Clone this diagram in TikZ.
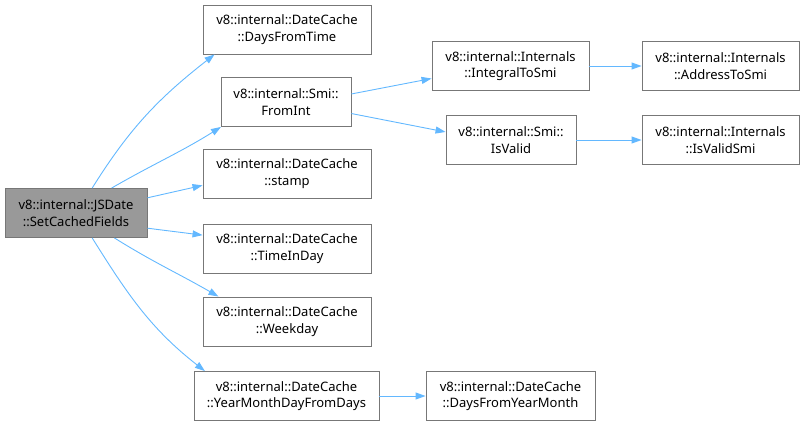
\documentclass[tikz,border=0pt]{standalone}
\usepackage{xcolor}
\usepackage{fontspec}
\setmainfont{Noto Sans}
\usetikzlibrary{arrows.meta}
\definecolor{edgec}{HTML}{63B8FF}
\definecolor{boxline}{HTML}{777777}
\definecolor{rootfill}{HTML}{999999}
\begin{document}
\begin{tikzpicture}[x=1pt, y=-1pt,
    fn/.style={draw=boxline, line width=0.9pt, fill=white, align=center,
      minimum height=49pt, inner sep=2pt, font=\fontsize{13}{16.5}\selectfont},
    root/.style={fn, fill=rootfill},
    call/.style={edgec, line width=0.9pt, -{Triangle[length=10pt, width=7pt]}}]
    \useasboundingbox (0,0) rectangle (804,426);
    % caller
    \node[root, minimum width=142pt] (jsdate) at (76,213) {v8::internal::JSDate\\::SetCachedFields};
    % direct callees
    \node[fn, minimum width=168pt] (dft) at (287,29.5) {v8::internal::DateCache\\::DaysFromTime};
    \node[fn, minimum width=130pt] (fromint) at (286,102) {v8::internal::Smi::\\FromInt};
    \node[fn, minimum width=168pt] (stamp) at (287,173.5) {v8::internal::DateCache\\::stamp};
    \node[fn, minimum width=168pt] (tid) at (287,248.5) {v8::internal::DateCache\\::TimeInDay};
    \node[fn, minimum width=168pt] (wday) at (287,321.5) {v8::internal::DateCache\\::Weekday};
    \node[fn, minimum width=185pt] (ymd) at (286.5,396) {v8::internal::DateCache\\::YearMonthDayFromDays};
    % second level
    \node[fn, minimum width=157pt] (its) at (510.5,66) {v8::internal::Internals\\::IntegralToSmi};
    \node[fn, minimum width=130pt] (isvalid) at (511,140) {v8::internal::Smi::\\IsValid};
    \node[fn, minimum width=169pt] (dfym) at (510.5,396) {v8::internal::DateCache\\::DaysFromYearMonth};
    % third level
    \node[fn, minimum width=157pt] (ats) at (720.5,66) {v8::internal::Internals\\::AddressToSmi};
    \node[fn, minimum width=157pt] (ivs) at (720.5,140) {v8::internal::Internals\\::IsValidSmi};
    % calls
    \draw[call] (jsdate.57) to[out=58, in=218] (dft.199);
    \draw[call] (jsdate.35) to[out=30, in=212] (fromint.201);
    \draw[call] (jsdate.12.7) -- (stamp.188.5);
    \draw[call] (jsdate.-12.7) -- (tid.171.5);
    \draw[call] (jsdate.-33) to[out=-32, in=150] (wday.160);
    \draw[call] (jsdate.-57) to[out=-58, in=142] (ymd.163);
    \draw[call] (fromint.7.9) -- (its.189.4);
    \draw[call] (fromint.-10.5) -- (isvalid.173);
    \draw[call] (its) -- (ats);
    \draw[call] (isvalid) -- (ivs);
    \draw[call] (ymd) -- (dfym);
\end{tikzpicture}
\end{document}
